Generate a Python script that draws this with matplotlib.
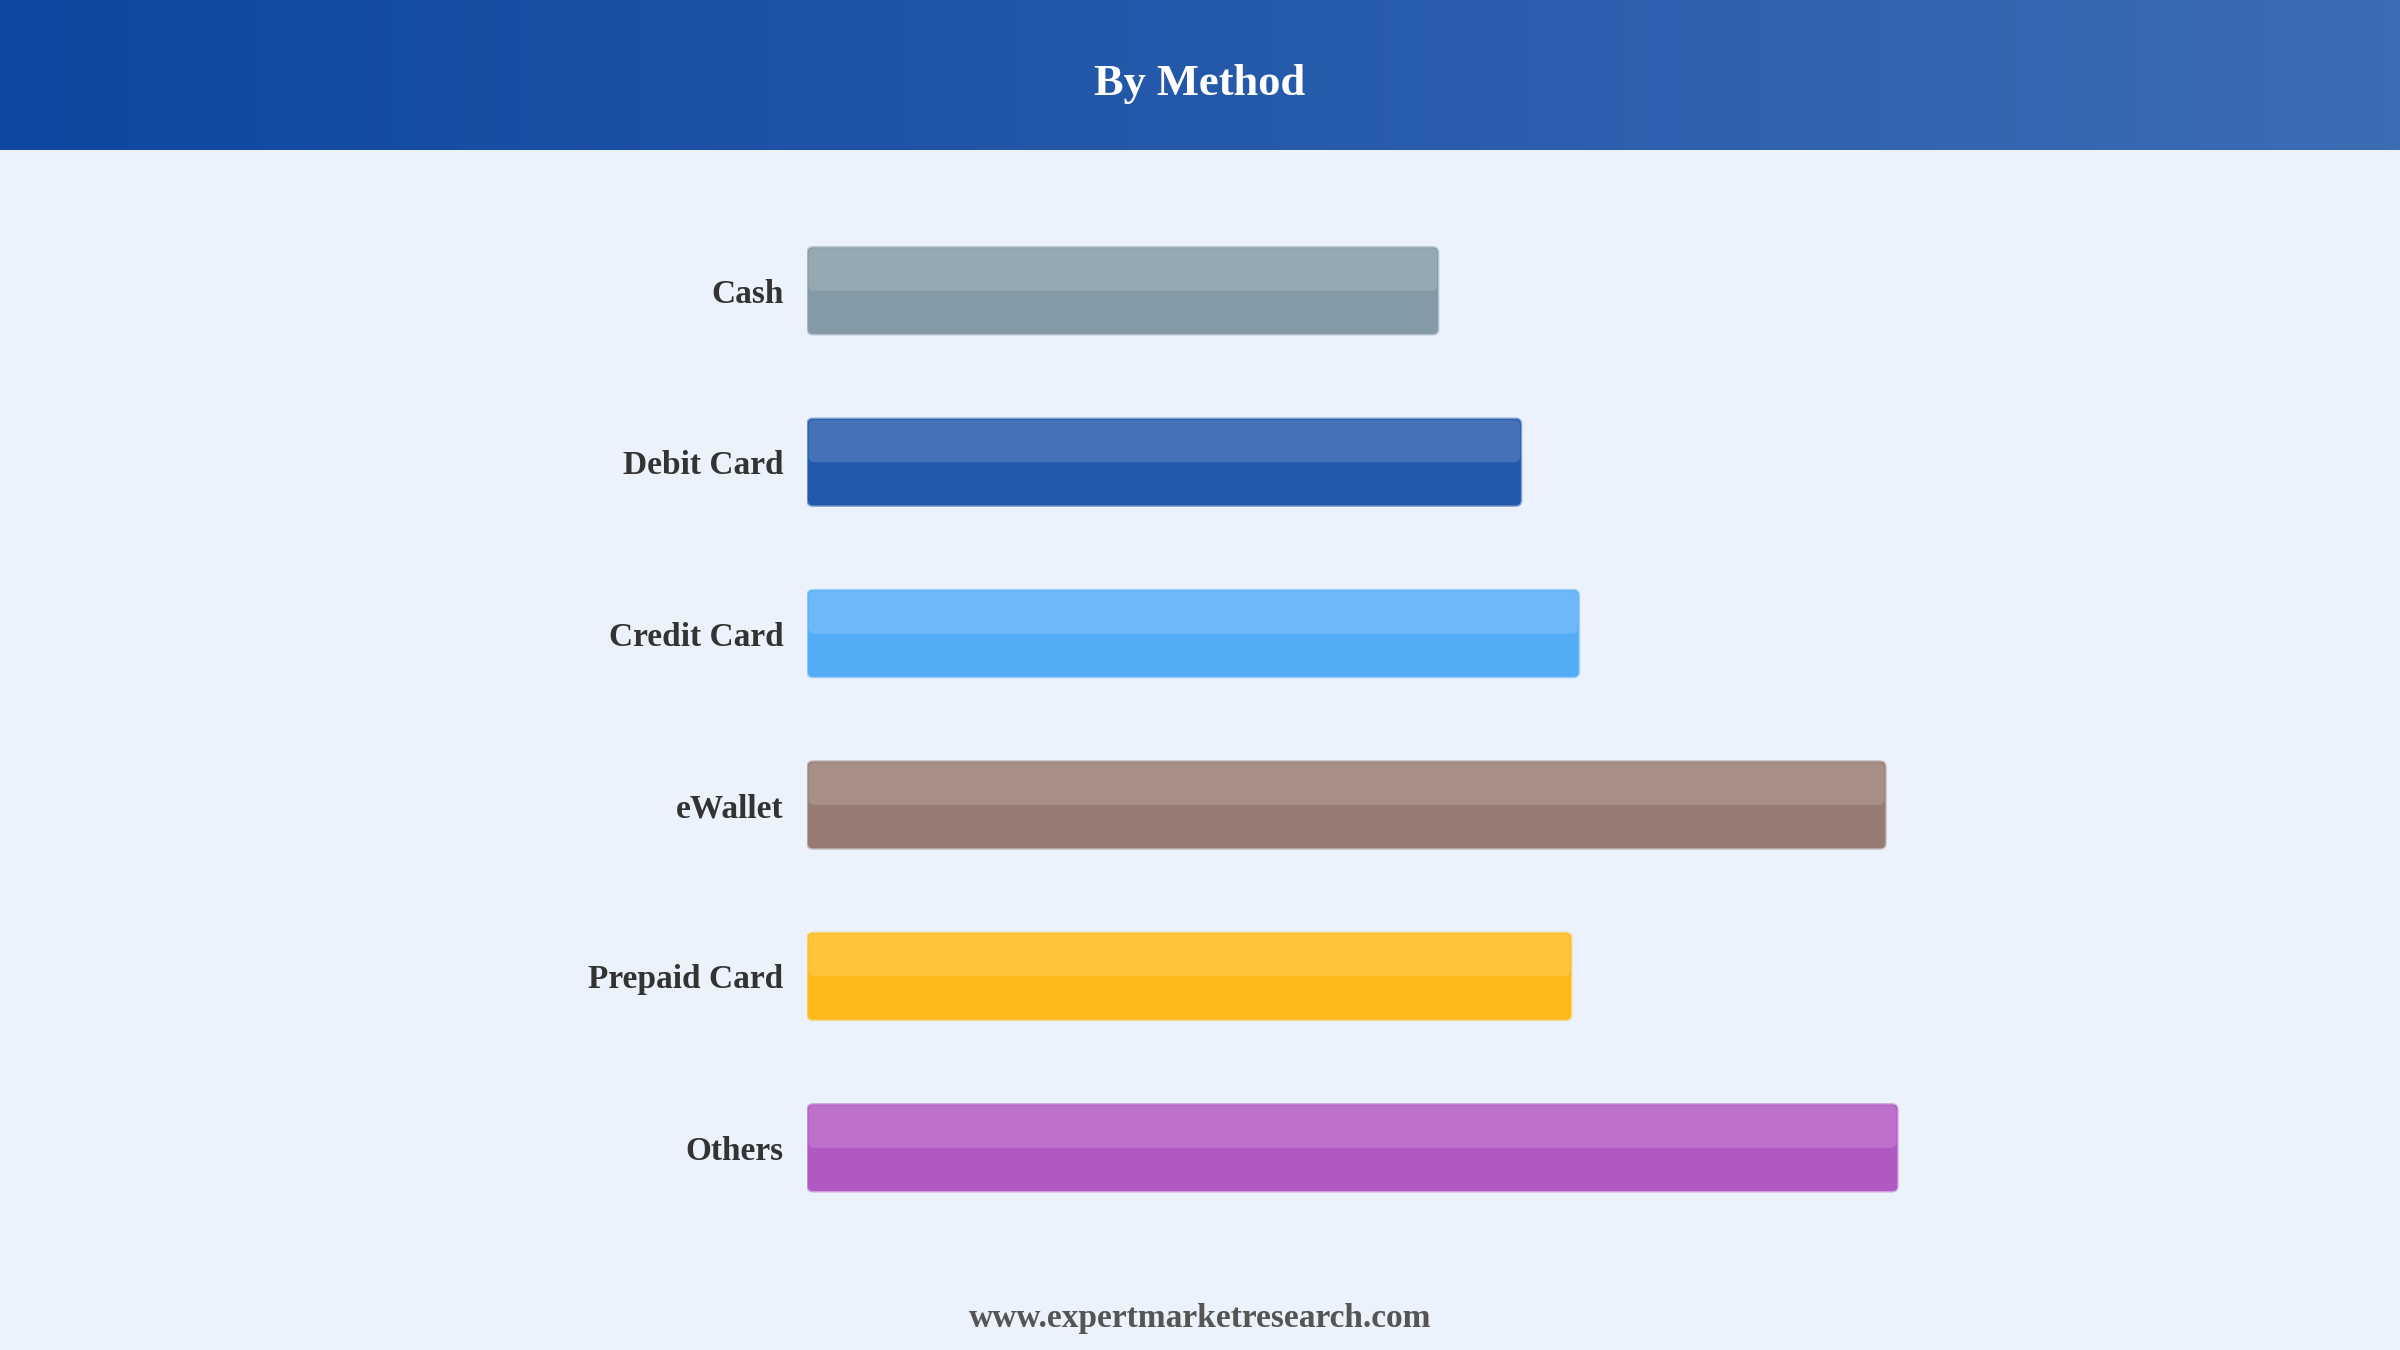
import matplotlib.pyplot as plt
import numpy as np
from matplotlib.patches import FancyBboxPatch
from matplotlib.colors import to_rgb

methods = ['Cash', 'Debit Card', 'Credit Card', 'eWallet', 'Prepaid Card', 'Others']
values = [5.79, 6.55, 7.08, 9.89, 7.01, 10.0]
colors = ['#78909C', '#0D47A1', '#42A5F5', '#8D6E63', '#FFB300', '#AB47BC']

bg = '#EBF2FC'
W, H = 2400, 1350
plt.rcParams['font.family'] = ['Liberation Serif', 'DejaVu Serif']


def mix(c, other, a):
    # blend colour c over other with opacity a
    c, o = np.array(to_rgb(c)), np.array(to_rgb(other))
    return tuple(c * a + o * (1 - a))


fig = plt.figure(figsize=(24, 13.5), dpi=100, facecolor=bg)

# header band with horizontal gradient
hdr_h = 150 / H
hax = fig.add_axes([0, 1 - hdr_h, 1, hdr_h])
c0 = np.array([13, 71, 161]) / 255
c1 = np.array([60, 108, 180]) / 255
t = np.linspace(0, 1, 256)
grad = (c0[None, :] * (1 - t[:, None]) + c1[None, :] * t[:, None])[None, :, :]
hax.imshow(grad, aspect='auto', extent=[0, 1, 0, 1])
hax.set_xlim(0, 1)
hax.set_ylim(0, 1)
hax.axis('off')
hax.text(0.5, 0.44, 'By Method', color='white', fontsize=32, fontweight='bold',
         ha='center', va='center')

# main bar axes
left_px = 807
unit_x = 109.1   # px per value unit
unit_y = 171.4   # px per row
xmax = 12
ax_w = unit_x * xmax
top_px = 290.8 - unit_y / 2
ax_h = unit_y * len(methods)
ax = fig.add_axes([left_px / W, 1 - (top_px + ax_h) / H, ax_w / W, ax_h / H])
ax.set_facecolor(bg)
ax.set_xlim(0, xmax)
ax.set_ylim(len(methods) - 0.5, -0.5)

ypos = np.arange(len(methods))
bar_h = 88 / unit_y
bars = ax.barh(ypos, values, height=bar_h, color='none', edgecolor='none')

r = 6 / unit_x
aspect = unit_x / unit_y
for b, col in zip(bars, colors):
    x0, y0, w, h = b.get_x(), b.get_y(), b.get_width(), b.get_height()
    b.remove()
    base = mix(col, bg, 0.9)
    gloss = mix('white', base, 0.15)
    ax.add_patch(FancyBboxPatch((x0, y0), w, h,
                                boxstyle=f'round,pad=0,rounding_size={r}',
                                mutation_aspect=aspect, facecolor=base,
                                edgecolor=mix(col, bg, 0.45), linewidth=1.0))
    # glossy top half
    ins_x = 1.5 / unit_x
    ins_y = 1.5 / unit_y
    ax.add_patch(FancyBboxPatch((x0 + ins_x, y0 + ins_y), w - 2 * ins_x, h / 2 - ins_y,
                                boxstyle=f'round,pad=0,rounding_size={r}',
                                mutation_aspect=aspect, facecolor=gloss,
                                edgecolor='none', linewidth=0))

ax.set_yticks(ypos)
ax.set_yticklabels(methods, fontsize=24, fontweight='bold', color='#333333')
ax.tick_params(axis='y', length=0, pad=17)
ax.set_xticks([])
for s in ax.spines.values():
    s.set_visible(False)

fig.text(0.5, 1 - 1318 / H, 'www.expertmarketresearch.com', fontsize=24,
         fontweight='bold', color='#555555', ha='center', va='center')

fig.savefig('out.png', dpi=100, facecolor=bg)
